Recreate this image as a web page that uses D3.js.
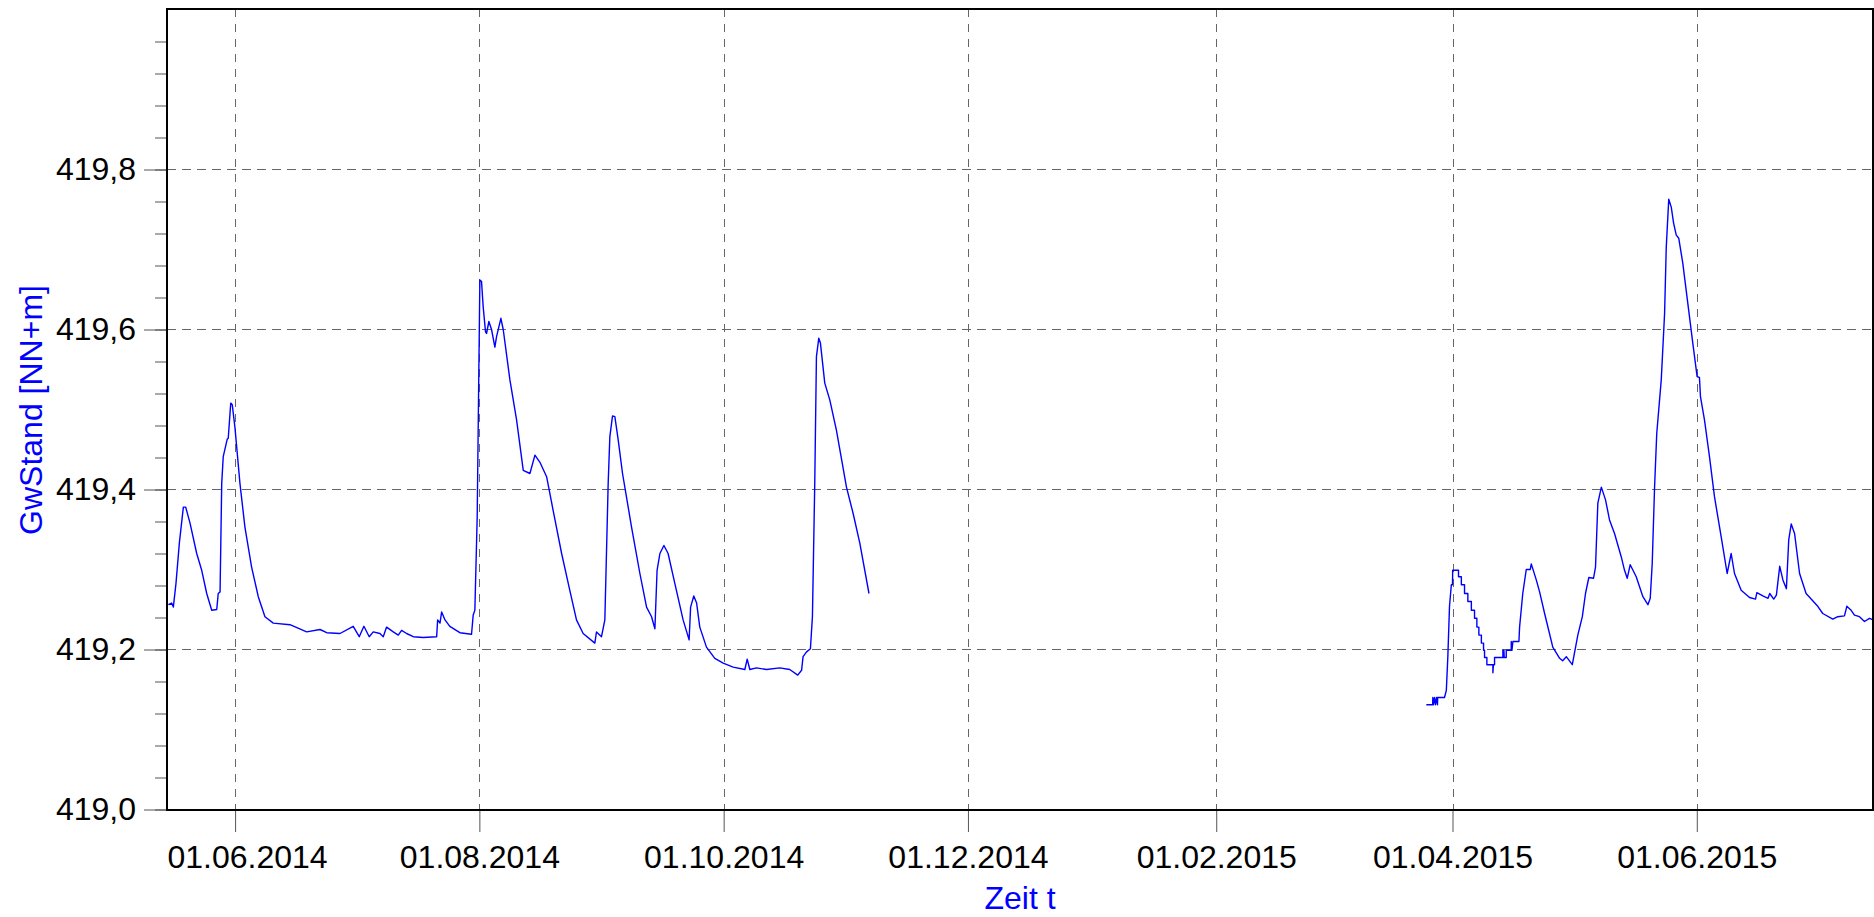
<!DOCTYPE html>
<html>
<head>
<meta charset="utf-8">
<script src="https://cdn.jsdelivr.net/npm/d3@7"></script>
<style>
  body { margin: 0; background: #fff; }
  svg { display: block; font-family: "Liberation Sans", Arial, sans-serif; }
</style>
</head>
<body>
<script>
// chart size and plot box
const w = 1874;
const h = 917;
const plotLeft = 167, plotRight = 1873, plotTop = 9, plotBottom = 810;

// groundwater level, first logger period (2014)
const dates2014 = [
  "2014-05-15 08", "2014-05-16 04", "2014-05-16 14", "2014-05-17 06", "2014-05-18 02", "2014-05-19 02",
  "2014-05-19 16", "2014-05-20 18", "2014-05-22 10", "2014-05-23 16", "2014-05-24 22", "2014-05-26 04",
  "2014-05-27 10", "2014-05-27 19", "2014-05-28 06", "2014-05-28 16", "2014-05-29 01", "2014-05-30 01",
  "2014-05-30 07", "2014-05-30 22", "2014-05-31 07", "2014-05-31 23", "2014-06-02 05", "2014-06-03 11",
  "2014-06-05 03", "2014-06-06 19", "2014-06-08 11", "2014-06-10 13", "2014-06-14 17", "2014-06-18 21",
  "2014-06-22 05", "2014-06-23 21", "2014-06-27 05", "2014-06-30 12", "2014-07-02 00", "2014-07-03 04",
  "2014-07-04 12", "2014-07-05 12", "2014-07-07 04", "2014-07-08 00", "2014-07-08 20", "2014-07-10 12",
  "2014-07-11 18", "2014-07-12 14", "2014-07-13 20", "2014-07-15 12", "2014-07-17 23", "2014-07-21 08",
  "2014-07-21 14", "2014-07-22 04", "2014-07-22 14", "2014-07-23 10", "2014-07-24 15", "2014-07-27 03",
  "2014-07-30 01", "2014-07-30 11", "2014-07-30 21", "2014-07-31 11", "2014-08-01 03", "2014-08-01 13",
  "2014-08-01 23", "2014-08-02 13", "2014-08-02 19", "2014-08-03 09", "2014-08-04 01", "2014-08-04 21",
  "2014-08-05 07", "2014-08-06 09", "2014-08-06 23", "2014-08-08 15", "2014-08-10 07", "2014-08-11 23",
  "2014-08-13 15", "2014-08-14 21", "2014-08-16 03", "2014-08-17 19", "2014-08-19 10", "2014-08-21 13",
  "2014-08-23 14", "2014-08-25 06", "2014-08-26 22", "2014-08-29 20", "2014-08-30 06", "2014-08-31 12",
  "2014-09-01 08", "2014-09-02 04", "2014-09-02 14", "2014-09-03 06", "2014-09-03 20", "2014-09-04 16",
  "2014-09-05 18", "2014-09-08 00", "2014-09-10 02", "2014-09-11 18", "2014-09-13 00", "2014-09-13 20",
  "2014-09-14 09", "2014-09-15 02", "2014-09-16 02", "2014-09-17 03", "2014-09-18 19", "2014-09-20 21",
  "2014-09-22 09", "2014-09-22 18", "2014-09-23 13", "2014-09-24 06", "2014-09-25 01", "2014-09-26 17",
  "2014-09-28 19", "2014-09-30 21", "2014-10-03 09", "2014-10-06 07", "2014-10-06 21", "2014-10-07 13",
  "2014-10-09 05", "2014-10-11 17", "2014-10-15 00", "2014-10-17 12", "2014-10-19 12", "2014-10-20 11",
  "2014-10-20 20", "2014-10-21 17", "2014-10-22 16", "2014-10-23 04", "2014-10-23 18", "2014-10-24 04",
  "2014-10-24 18", "2014-10-25 04", "2014-10-26 06", "2014-10-27 12", "2014-10-29 04", "2014-10-31 16",
  "2014-11-02 08", "2014-11-04 00", "2014-11-06 07"
];
const levels2014 = [
  419.256, 419.258, 419.253, 419.283, 419.333, 419.378,
  419.378, 419.358, 419.320, 419.299, 419.270, 419.249,
  419.250, 419.270, 419.272, 419.408, 419.441, 419.463,
  419.464, 419.508, 419.506, 419.478, 419.408, 419.353,
  419.303, 419.266, 419.241, 419.233, 419.231, 419.222,
  419.225, 419.221, 419.220, 419.229, 419.216, 419.229,
  419.216, 419.222, 419.220, 419.216, 419.228, 419.222,
  419.218, 419.224, 419.220, 419.216, 419.215, 419.216,
  419.237, 419.233, 419.247, 419.237, 419.229, 419.221,
  419.219, 419.243, 419.249, 419.366, 419.662, 419.660,
  419.628, 419.597, 419.595, 419.610, 419.600, 419.578,
  419.591, 419.614, 419.600, 419.537, 419.487, 419.424,
  419.420, 419.443, 419.434, 419.416, 419.374, 419.320,
  419.274, 419.237, 419.220, 419.208, 419.222, 419.216,
  419.237, 419.408, 419.466, 419.492, 419.491, 419.462,
  419.420, 419.353, 419.295, 419.253, 419.241, 419.226,
  419.299, 419.320, 419.330, 419.320, 419.283, 419.237,
  419.212, 419.253, 419.267, 419.258, 419.228, 419.203,
  419.189, 419.183, 419.178, 419.175, 419.188, 419.175,
  419.177, 419.175, 419.177, 419.175, 419.168, 419.174,
  419.191, 419.197, 419.201, 419.241, 419.408, 419.566,
  419.589, 419.583, 419.533, 419.512, 419.474, 419.403,
  419.370, 419.333, 419.270
];

// second logger period (2015), quantised steps in early April
const dates2015 = [
  "2015-03-25 11", "2015-03-27 01", "2015-03-27 02", "2015-03-27 06", "2015-03-27 12", "2015-03-27 18",
  "2015-03-28 00", "2015-03-28 06", "2015-03-28 07", "2015-03-30 00", "2015-03-30 11", "2015-03-30 20",
  "2015-03-31 06", "2015-03-31 17", "2015-04-01 00", "2015-04-01 01", "2015-04-02 12", "2015-04-02 12",
  "2015-04-03 05", "2015-04-03 05", "2015-04-04 00", "2015-04-04 00", "2015-04-04 20", "2015-04-04 20",
  "2015-04-05 17", "2015-04-05 17", "2015-04-06 12", "2015-04-06 12", "2015-04-07 02", "2015-04-07 02",
  "2015-04-07 14", "2015-04-07 14", "2015-04-08 05", "2015-04-08 05", "2015-04-08 18", "2015-04-08 18",
  "2015-04-09 00", "2015-04-09 00", "2015-04-09 14", "2015-04-09 14", "2015-04-11 02", "2015-04-11 02",
  "2015-04-11 05", "2015-04-11 12", "2015-04-11 12", "2015-04-13 14", "2015-04-13 14", "2015-04-13 16",
  "2015-04-13 20", "2015-04-13 22", "2015-04-14 10", "2015-04-14 10", "2015-04-15 16", "2015-04-15 16",
  "2015-04-15 20", "2015-04-16 02", "2015-04-17 14", "2015-04-17 18", "2015-04-18 04", "2015-04-18 13",
  "2015-04-19 10", "2015-04-20 10", "2015-04-20 16", "2015-04-21 22", "2015-04-22 18", "2015-04-24 00",
  "2015-04-26 01", "2015-04-27 18", "2015-04-28 12", "2015-04-29 10", "2015-04-30 22", "2015-05-02 07",
  "2015-05-03 10", "2015-05-04 05", "2015-05-05 01", "2015-05-06 05", "2015-05-06 17", "2015-05-07 07",
  "2015-05-08 04", "2015-05-09 05", "2015-05-10 05", "2015-05-11 11", "2015-05-13 03", "2015-05-13 23",
  "2015-05-14 15", "2015-05-15 09", "2015-05-16 21", "2015-05-18 13", "2015-05-19 19", "2015-05-20 09",
  "2015-05-20 21", "2015-05-21 11", "2015-05-22 00", "2015-05-23 03", "2015-05-23 23", "2015-05-24 09",
  "2015-05-25 00", "2015-05-25 15", "2015-05-26 05", "2015-05-26 21", "2015-05-27 12", "2015-05-28 12",
  "2015-05-29 18", "2015-05-31 00", "2015-06-01 02", "2015-06-01 16", "2015-06-01 22", "2015-06-02 22",
  "2015-06-04 04", "2015-06-05 10", "2015-06-07 02", "2015-06-08 14", "2015-06-09 14", "2015-06-10 10",
  "2015-06-12 02", "2015-06-14 04", "2015-06-15 16", "2015-06-16 00", "2015-06-17 12", "2015-06-18 19",
  "2015-06-19 05", "2015-06-20 05", "2015-06-20 21", "2015-06-21 17", "2015-06-22 12", "2015-06-23 09",
  "2015-06-23 23", "2015-06-24 14", "2015-06-25 10", "2015-06-26 16", "2015-06-28 07", "2015-07-01 05",
  "2015-07-02 11", "2015-07-04 23", "2015-07-06 05", "2015-07-07 21", "2015-07-08 11", "2015-07-09 13",
  "2015-07-10 09", "2015-07-11 15", "2015-07-12 21", "2015-07-14 03", "2015-07-15 02"
];
const levels2015 = [
  419.131, 419.131, 419.140, 419.131, 419.140, 419.131,
  419.140, 419.131, 419.140, 419.140, 419.149, 419.191,
  419.254, 419.281, 419.281, 419.299, 419.299, 419.291,
  419.291, 419.281, 419.281, 419.270, 419.270, 419.260,
  419.260, 419.249, 419.249, 419.239, 419.239, 419.228,
  419.228, 419.218, 419.218, 419.208, 419.208, 419.199,
  419.199, 419.190, 419.190, 419.181, 419.181, 419.171,
  419.181, 419.181, 419.190, 419.190, 419.199, 419.190,
  419.199, 419.190, 419.190, 419.199, 419.199, 419.210,
  419.199, 419.210, 419.210, 419.228, 419.250, 419.270,
  419.300, 419.300, 419.307, 419.287, 419.272, 419.245,
  419.203, 419.189, 419.186, 419.191, 419.181, 419.218,
  419.241, 419.270, 419.290, 419.289, 419.303, 419.383,
  419.403, 419.387, 419.362, 419.345, 419.316, 419.299,
  419.289, 419.306, 419.291, 419.266, 419.256, 419.264,
  419.308, 419.403, 419.470, 419.537, 419.620, 419.703,
  419.763, 419.753, 419.733, 419.718, 419.714, 419.683,
  419.633, 419.583, 419.541, 419.540, 419.516, 419.487,
  419.441, 419.391, 419.341, 419.295, 419.320, 419.295,
  419.274, 419.265, 419.263, 419.271, 419.267, 419.264,
  419.270, 419.263, 419.268, 419.304, 419.287, 419.276,
  419.337, 419.357, 419.345, 419.295, 419.270, 419.254,
  419.245, 419.238, 419.241, 419.242, 419.254, 419.249,
  419.243, 419.241, 419.235, 419.239, 419.237
];

// axis ticks
const xTickDates = ["2014-06-01", "2014-08-01", "2014-10-01", "2014-12-01", "2015-02-01", "2015-04-01", "2015-06-01"];
const yMajorTicks = [419.0, 419.2, 419.4, 419.6, 419.8];
const yMinorTicks = d3.range(0, 25).map(i => 419 + i * 0.04);
const xDomain = ["2014-05-15", "2015-07-15"];

const parseT = d3.timeParse("%Y-%m-%d %H");
const parseD = d3.timeParse("%Y-%m-%d");
const de = d3.formatLocale({ decimal: ",", thousands: ".", grouping: [3], currency: ["", " €"] });
const fmtY = de.format(".1f");
const fmtX = d3.timeFormat("%d.%m.%Y");

const seg2014 = dates2014.map((d, i) => ({ t: parseT(d), v: levels2014[i] }));
const seg2015 = dates2015.map((d, i) => ({ t: parseT(d), v: levels2015[i] }));

const x = d3.scaleTime()
    .domain(xDomain.map(parseD))
    .range([plotLeft, plotRight]);
const y = d3.scaleLinear()
    .domain([419, 420])
    .range([809.5, 9.5]);

const svg = d3.select("body").append("svg")
    .attr("width", w)
    .attr("height", h);

svg.append("clipPath").attr("id", "plot")
  .append("rect")
    .attr("x", plotLeft).attr("y", plotTop)
    .attr("width", plotRight - plotLeft).attr("height", plotBottom - plotTop);

// grid
svg.append("g").selectAll("line")
    .data(yMajorTicks.slice(1))
    .enter().append("line")
    .attr("x1", plotLeft).attr("x2", plotRight)
    .attr("y1", d => y(d)).attr("y2", d => y(d))
    .attr("stroke", "#666").attr("stroke-dasharray", "9,6");
svg.append("g").selectAll("line")
    .data(xTickDates.map(parseD))
    .enter().append("line")
    .attr("x1", d => Math.round(x(d)) + 0.5).attr("x2", d => Math.round(x(d)) + 0.5)
    .attr("y1", plotTop).attr("y2", plotBottom)
    .attr("stroke", "#666").attr("stroke-dasharray", "8,7");

// y axis: minor and major ticks
svg.append("g")
    .attr("transform", `translate(${plotLeft},0)`)
    .call(d3.axisLeft(y).tickValues(yMinorTicks).tickSize(12).tickFormat(""))
    .call(g => g.select(".domain").remove())
    .call(g => g.selectAll("line").attr("stroke", "#555"));
svg.append("g")
    .attr("transform", `translate(${plotLeft},0)`)
    .call(d3.axisLeft(y).tickValues(yMajorTicks).tickSize(23).tickPadding(8).tickFormat(fmtY))
    .call(g => g.select(".domain").remove())
    .call(g => g.selectAll("line").attr("stroke", "#555"))
    .call(g => g.selectAll("text")
        .attr("fill", "#000")
        .style("font-size", "32px")
        .style("font-family", "'Liberation Sans', Arial, sans-serif"));

// x axis
svg.append("g")
    .attr("transform", `translate(0,${plotBottom})`)
    .call(d3.axisBottom(x).tickValues(xTickDates.map(parseD)).tickSize(22).tickPadding(13).tickFormat(fmtX))
    .call(g => g.select(".domain").remove())
    .call(g => g.selectAll("line").attr("stroke", "#555"))
    .call(g => g.selectAll("text")
        .attr("fill", "#000")
        .style("font-size", "32px")
        .style("font-family", "'Liberation Sans', Arial, sans-serif")
        .each(function(d) {
          // keep the first label inside the plot box
          const half = this.getComputedTextLength() / 2;
          if (x(d) - half < plotLeft) d3.select(this).attr("x", plotLeft + half - x(d));
        }));

// the data lines
const line = d3.line()
    .x(d => x(d.t))
    .y(d => y(d.v));
svg.append("g")
    .attr("clip-path", "url(#plot)")
    .selectAll("path")
    .data([seg2014, seg2015])
    .enter().append("path")
    .attr("d", line)
    .attr("fill", "none")
    .attr("stroke", "#0000ff")
    .attr("stroke-width", 1.4)
    .attr("stroke-linejoin", "round");

// frame
svg.append("rect")
    .attr("x", plotLeft).attr("y", plotTop)
    .attr("width", plotRight - plotLeft).attr("height", plotBottom - plotTop)
    .attr("fill", "none")
    .attr("stroke", "#000")
    .attr("stroke-width", 2);

// axis titles
svg.append("text")
    .attr("transform", "translate(42,410) rotate(-90)")
    .attr("text-anchor", "middle")
    .attr("fill", "#0000ff")
    .style("font-size", "32px")
    .text("GwStand [NN+m]");
svg.append("text")
    .attr("x", (plotLeft + plotRight) / 2)
    .attr("y", 909)
    .attr("text-anchor", "middle")
    .attr("fill", "#0000ff")
    .style("font-size", "32px")
    .text("Zeit t");
</script>
</body>
</html>
